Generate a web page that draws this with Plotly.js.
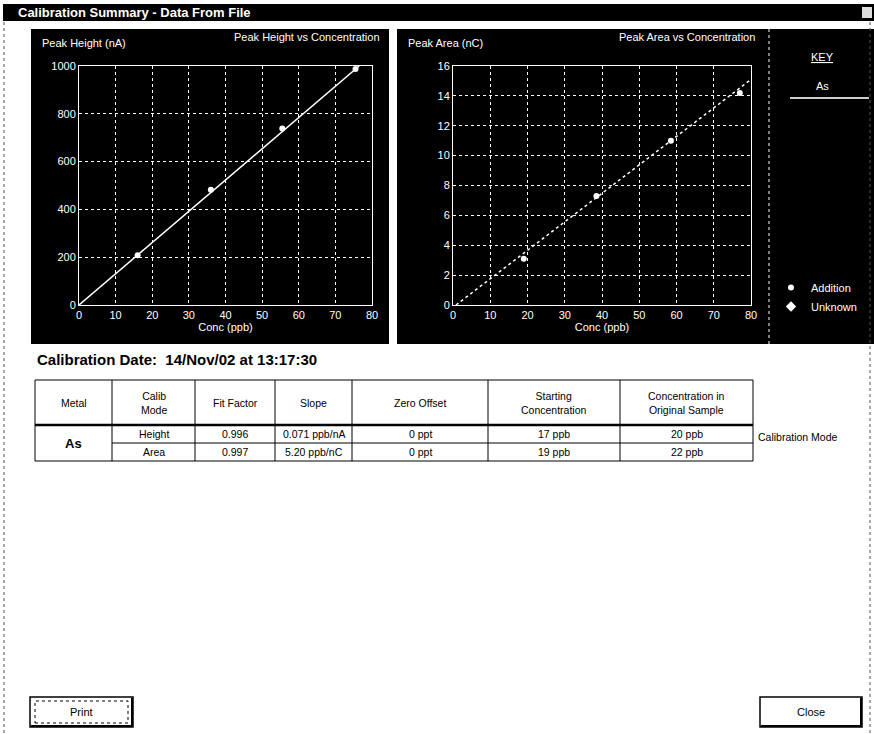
<!DOCTYPE html>
<html>
<head>
<meta charset="utf-8">
<script src="https://cdn.plot.ly/plotly-3.0.1.min.js"></script>
<style>html,body{margin:0;padding:0;background:#fff;}#chart{width:874px;height:734px;}</style>
</head>
<body>
<div id="chart"></div>
<script>
// ---------- data ----------
const windowTitle = 'Calibration Summary - Data From File';
const heightTitle = 'Peak Height vs Concentration';
const areaTitle = 'Peak Area vs Concentration';
const heightAxisLabel = 'Peak Height (nA)';
const areaAxisLabel = 'Peak Area (nC)';
const concLabel = 'Conc (ppb)';

const heightConc = [16, 36, 55.5, 75.5];
const heightValues = [208, 482, 738, 987];
const heightFitConc = [0, 76.5];
const heightFitValues = [0, 1000];

const areaConc = [19, 38.5, 58.5, 77];
const areaValues = [3.1, 7.3, 11.0, 14.2];
const areaFitConc = [0.8, 80];
const areaFitValues = [0, 15.1];

const keyMetal = 'As';
const legendNames = ['Addition', 'Unknown'];

const calibrationDate = 'Calibration Date:  14/Nov/02 at 13:17:30';
const tableHeaders = ['Metal', 'Calib<br>Mode', 'Fit Factor', 'Slope', 'Zero Offset', 'Starting<br>Concentration', 'Concentration in<br>Original Sample'];
const metalName = 'As';
const calibModes = ['Height', 'Area'];
const fitFactors = ['0.996', '0.997'];
const slopes = ['0.071 ppb/nA', '5.20 ppb/nC'];
const zeroOffsets = ['0 ppt', '0 ppt'];
const startingConc = ['17 ppb', '19 ppb'];
const originalConc = ['20 ppb', '22 ppb'];
const sideLabel = 'Calibration Mode';
const buttonLabels = ['Print', 'Close'];

// ---------- layout helpers ----------
const W = 874, H = 734;
const X = v => v / W;
const Y = v => 1 - v / H;
const FONT = 'Liberation Sans, Arial, sans-serif';

const shapes = [];
const annotations = [];
function rect(x0, y0, x1, y1, fill, line, lw, dash) {
  shapes.push({type: 'rect', xref: 'paper', yref: 'paper', x0: X(x0), x1: X(x1), y0: Y(y1), y1: Y(y0),
    fillcolor: fill || 'rgba(0,0,0,0)', line: {color: line || 'rgba(0,0,0,0)', width: lw || 0, dash: dash || 'solid'}, layer: 'below'});
}
function line(x0, y0, x1, y1, color, lw, dash, layer) {
  shapes.push({type: 'line', xref: 'paper', yref: 'paper', x0: X(x0), x1: X(x1), y0: Y(y0), y1: Y(y1),
    line: {color: color, width: lw, dash: dash || 'solid'}, layer: layer || 'above'});
}
function text(t, x, y, opts) {
  opts = opts || {};
  annotations.push({text: t, xref: 'paper', yref: 'paper', x: X(x), y: Y(y), showarrow: false,
    xanchor: opts.xa || 'center', yanchor: 'middle', align: opts.align || 'center',
    font: {family: opts.family || FONT, size: opts.size || 11, color: opts.color || 'black', weight: opts.weight || 'normal'}});
}

// window frame and title bar
line(4, 22, 4, 734, '#555', 1, 'dot');
line(870, 22, 870, 734, '#555', 1, 'dot');
rect(3, 4, 874, 21, 'black');
rect(862, 7, 872, 18, '#ddd');
text(windowTitle, 16, 13, {xa: 'left', color: 'white', size: 13, weight: 'bold'});

// black chart panels
const panelTop = 29, panelBottom = 344;
rect(31, panelTop, 389, panelBottom, 'black');
rect(397, panelTop, 874, panelBottom, 'black');
line(769, panelTop, 769, panelBottom, 'white', 1, 'dot');

// plot frames
const frameTop = 66, frameBottom = 305;
const leftFrame = [79, 372], rightFrame = [453, 751];

text(heightAxisLabel, 40, 43, {xa: 'left', color: 'white'});
text(heightTitle, 382, 37, {xa: 'right', color: 'white'});
text(areaAxisLabel, 406, 43, {xa: 'left', color: 'white'});
text(areaTitle, 757, 37, {xa: 'right', color: 'white'});

// key
text('<u>KEY</u>', 822, 57, {color: 'white'});
text(keyMetal, 822, 86, {color: 'white'});
line(790, 98, 869, 98, '#ccc', 2);

// calibration table
text(calibrationDate, 35, 359, {xa: 'left', size: 15, weight: 'bold', family: 'Liberation Sans, Arial, sans-serif'});
const colEdges = [35, 112, 195, 275, 352, 488, 620, 753];
const rowEdges = [380, 425, 443, 461];
line(colEdges[0], rowEdges[0], colEdges[7], rowEdges[0], 'black', 1);
line(colEdges[0], rowEdges[1], colEdges[7], rowEdges[1], 'black', 2.5);
line(colEdges[1], rowEdges[2], colEdges[7], rowEdges[2], 'black', 1);
line(colEdges[0], rowEdges[3], colEdges[7], rowEdges[3], 'black', 1);
colEdges.forEach(cx => line(cx, rowEdges[0], cx, rowEdges[3], 'black', 1));
const cx = i => (colEdges[i] + colEdges[i + 1]) / 2;
tableHeaders.forEach((h, i) => text(h, cx(i), (rowEdges[0] + rowEdges[1]) / 2, {size: 10.5}));
text(metalName, cx(0), (rowEdges[1] + rowEdges[3]) / 2, {size: 13, weight: 'bold'});
const rowCols = [calibModes, fitFactors, slopes, zeroOffsets, startingConc, originalConc];
[0, 1].forEach(r => {
  const cy = (rowEdges[r + 1] + rowEdges[r + 2]) / 2;
  rowCols.forEach((arr, c) => text(arr[r], cx(c + 1), cy, {size: 10.5}));
});
text(sideLabel, 756, 437, {xa: 'left', size: 10.5});

// buttons
[[30, 133], [760, 862]].forEach((b, i) => {
  rect(b[0], 697, b[1], 727, 'white', 'black', 1.5);
  line(b[0] + 1, 726, b[1], 726, 'black', 2);
  line(b[1] - 1, 698, b[1] - 1, 727, 'black', 2);
  if (i === 0) rect(b[0] + 5, 701, b[1] - 5, 723, 'rgba(0,0,0,0)', 'black', 1, 'dot');
  text(buttonLabels[i], (b[0] + b[1]) / 2, 712, {size: 11});
});

// ---------- axes ----------
function xax(domain) {
  return {domain: domain, range: [0, 80], dtick: 10, tick0: 0, showgrid: true, gridcolor: 'white', griddash: 'dot', gridwidth: 1,
    showline: true, linecolor: 'white', linewidth: 1, mirror: true, zeroline: false, ticks: '',
    tickfont: {family: FONT, size: 11, color: 'white'}, fixedrange: true,
    title: {text: concLabel, font: {family: FONT, size: 11, color: 'white'}, standoff: 2}};
}
function yax(range, dtick, anchor) {
  return {domain: [Y(frameBottom), Y(frameTop)], range: range, dtick: dtick, tick0: 0, anchor: anchor,
    showgrid: true, gridcolor: 'white', griddash: 'dot', gridwidth: 1,
    showline: true, linecolor: 'white', linewidth: 1, mirror: true, zeroline: false, ticks: '',
    tickfont: {family: FONT, size: 11, color: 'white'}, fixedrange: true};
}

const traces = [
  {x: heightFitConc, y: heightFitValues, xaxis: 'x', yaxis: 'y', mode: 'lines', line: {color: 'white', width: 1.5}, showlegend: false, hoverinfo: 'skip'},
  {x: heightConc, y: heightValues, xaxis: 'x', yaxis: 'y', mode: 'markers', name: legendNames[0], legendgroup: 'a',
    marker: {color: 'white', size: 6, symbol: 'circle'}, showlegend: true},
  {x: areaFitConc, y: areaFitValues, xaxis: 'x2', yaxis: 'y2', mode: 'lines', line: {color: 'white', width: 1.5, dash: 'dot'}, showlegend: false, hoverinfo: 'skip'},
  {x: areaConc, y: areaValues, xaxis: 'x2', yaxis: 'y2', mode: 'markers', name: legendNames[0], legendgroup: 'a',
    marker: {color: 'white', size: 6, symbol: 'circle'}, showlegend: false},
  {x: [null], y: [null], xaxis: 'x2', yaxis: 'y2', mode: 'markers', name: legendNames[1],
    marker: {color: 'white', size: 8, symbol: 'diamond'}, showlegend: true}
];

const layout = {
  width: W, height: H, margin: {l: 0, r: 0, t: 0, b: 0},
  paper_bgcolor: 'white', plot_bgcolor: 'black',
  xaxis: xax([X(leftFrame[0]), X(leftFrame[1])]),
  yaxis: yax([0, 1000], 200, 'x'),
  xaxis2: Object.assign(xax([X(rightFrame[0]), X(rightFrame[1])]), {anchor: 'y2'}),
  yaxis2: yax([0, 16], 2, 'x2'),
  showlegend: true,
  legend: {x: X(771), y: Y(273), xanchor: 'left', yanchor: 'top', bgcolor: 'rgba(0,0,0,0)',
    font: {family: FONT, size: 11, color: 'white'}, tracegroupgap: 0, itemclick: false},
  shapes: shapes, annotations: annotations
};
layout.xaxis.anchor = 'y';

Plotly.newPlot('chart', traces, layout, {displayModeBar: false, staticPlot: true});
</script>
</body>
</html>
